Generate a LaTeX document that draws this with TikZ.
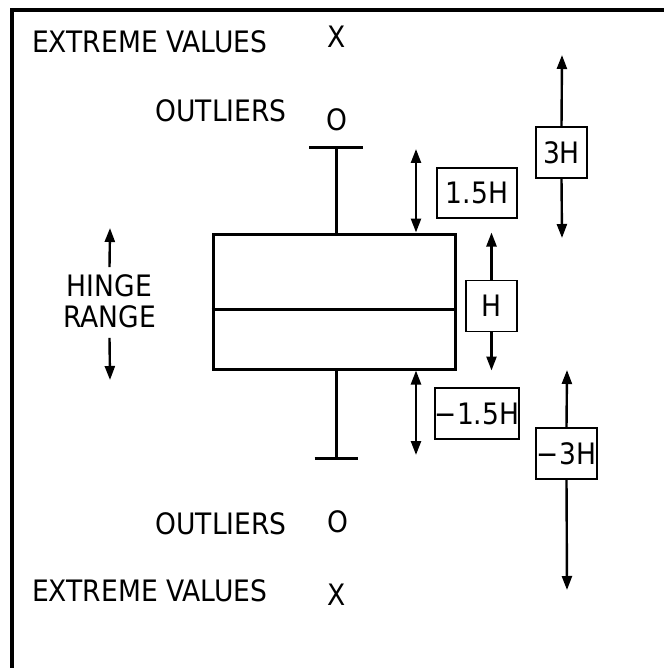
\documentclass[tikz,border=0pt]{standalone}
\usepackage{fontspec}
\setmainfont{DejaVu Sans}[FakeStretch=0.9]
\usepackage{tikz}
\usetikzlibrary{arrows.meta, positioning}
\tikzstyle{arrow} = [line width=2.4pt,-{Triangle[length=14pt,width=10pt]}]
\tikzstyle{twoway} = [line width=2.4pt,{Triangle[length=14pt,width=10pt]}-{Triangle[length=14pt,width=10pt]}]
\tikzstyle{txt} = [inner sep=0pt, font=\fontsize{29.5}{31}\selectfont]
\tikzstyle{tag} = [txt, draw, line width=1.5pt, minimum height=51pt]
\tikzstyle{plot} = [line width=3pt]

\begin{document}
\begin{tikzpicture}[x=1pt, y=-1pt]
        \useasboundingbox (0,0) rectangle (664,668);

        % Frame
        \draw[line width=4pt] (12,668) -- (12,10) -- (664,10);

        % Labels on the left
        \node[txt, anchor=base west] (extop) at (32,53) {EXTREME VALUES};
        \node[txt, anchor=base] (xtop) at (337,48) {X};
        \node[txt, anchor=base east] (outtop) at (287,122) {OUTLIERS};
        \node[txt, anchor=base] (otop) at (336.5,131) {O};
        \node[txt, anchor=base east] (outbot) at (287,534) {OUTLIERS};
        \node[txt, anchor=base] (obot) at (337.5,532) {O};
        \node[txt, anchor=base west] (exbot) at (32,601) {EXTREME VALUES};
        \node[txt, anchor=base] (xbot) at (336.5,605) {X};

        % Hinge range
        \node[txt, align=center] (hinge) at (109.5,301) {HINGE\\RANGE};
        \coordinate (hingeup) at (110,228);
        \coordinate (hingedn) at (110,380);
        \draw[arrow] ([yshift=7pt]hinge.north) -- (hingeup);
        \draw[arrow] ([yshift=-10pt]hinge.south) -- (hingedn);

        % Box and whiskers
        \node[plot, draw, inner sep=0pt, minimum width=242pt, minimum height=135pt] (box) at (334,301.5) {};
        \coordinate (med) at (0,309);
        \draw[plot] (box.west |- med) -- (box.east |- med);
        \coordinate (captop) at (336,148);
        \coordinate (capbot) at (336,458);
        \draw[plot] (captop) -- (captop |- box.north);
        \draw[plot] ([xshift=-27pt]captop) -- ([xshift=27pt]captop);
        \draw[plot] (capbot) -- (capbot |- box.south);
        \draw[plot] ([xshift=-21.5pt]capbot) -- ([xshift=21.5pt]capbot);

        % Spans of 1.5H
        \coordinate (up15) at (416,149);
        \coordinate (dn15) at (416,455);
        \draw[twoway] (up15) -- (up15 |- box.north);
        \draw[twoway] (dn15 |- box.south) -- (dn15);
        \node[tag, minimum width=80pt, minimum height=50pt] (h15) at (477,193) {1.5H};
        \node[tag, minimum width=80pt] (m15) at (477,413.5) {−1.5H};

        % Span of H
        \node[tag, minimum width=51pt] (hbox) at (491.5,306) {H};
        \draw[arrow] (hbox.north) -- (hbox.north |- box.north);
        \draw[arrow] (hbox.south) -- (hbox.south |- box.south);

        % Spans of 3H
        \node[tag, minimum width=51pt] (h3) at (561.5,152.5) {3H};
        \coordinate (up3) at (562,55);
        \coordinate (dn3) at (562,238);
        \draw[arrow] (h3.north) -- (up3);
        \draw[arrow] (h3.south) -- (dn3);
        \node[tag, minimum width=61pt] (m3) at (566.5,453.5) {−3H};
        \coordinate (upm3) at (567,370);
        \coordinate (dnm3) at (567,590);
        \draw[arrow] (m3.north) -- (upm3);
        \draw[arrow] (m3.south) -- (dnm3);
    \end{tikzpicture}
\end{document}
